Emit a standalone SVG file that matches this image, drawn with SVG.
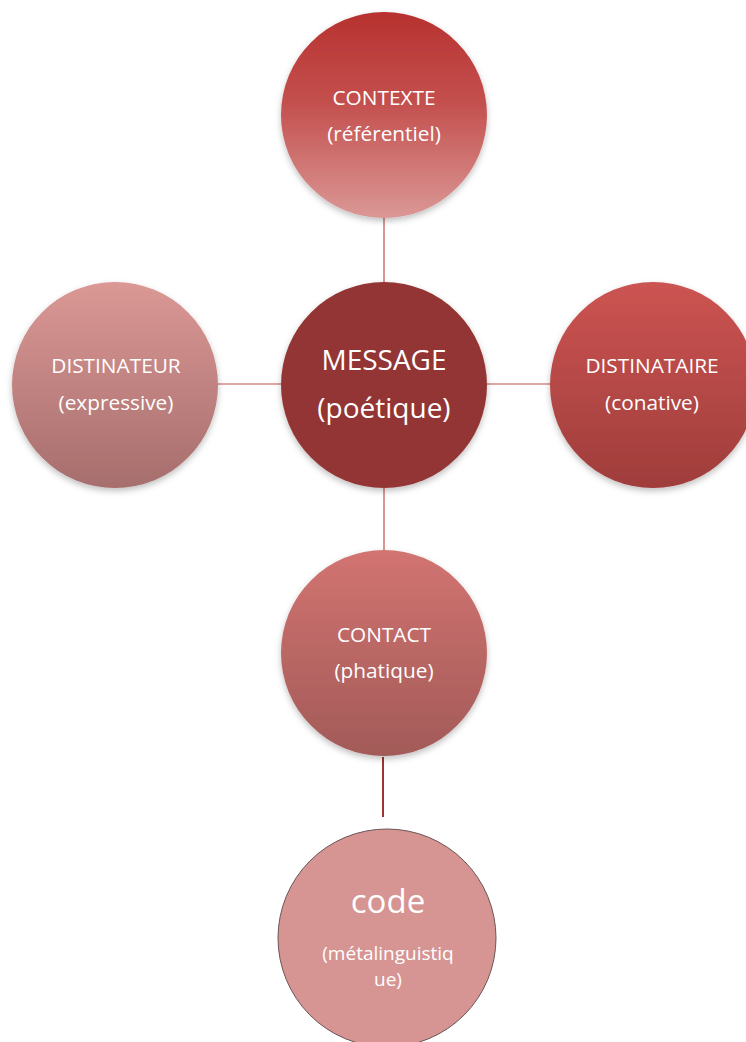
<svg xmlns="http://www.w3.org/2000/svg" width="746" height="1042" viewBox="0 0 746 1042">
<style>
text{font-family:"Open Sans","Noto Sans","Liberation Sans",sans-serif;fill:#ffffff;text-anchor:middle}
.s{font-size:20.8px}
.m{font-size:28px}
.c{font-size:33px}
.t{font-size:19px}
.conn line{stroke:#C0504D;stroke-width:1.2}
</style>
<defs>
<filter id="sh" x="-20%" y="-20%" width="140%" height="150%"><feDropShadow dx="0" dy="3" stdDeviation="3" flood-color="#000" flood-opacity="0.25"/></filter>
<linearGradient id="gTop" x1="0" y1="0" x2="0" y2="1"><stop offset="0" stop-color="#B7312F"/><stop offset="0.45" stop-color="#C4514F"/><stop offset="1" stop-color="#DA9896"/></linearGradient>
<linearGradient id="gLeft" x1="0" y1="0" x2="0" y2="1"><stop offset="0" stop-color="#DB9895"/><stop offset="1" stop-color="#A66E6D"/></linearGradient>
<linearGradient id="gRight" x1="0" y1="0" x2="0" y2="1"><stop offset="0" stop-color="#CC5452"/><stop offset="1" stop-color="#9F3D3B"/></linearGradient>
<linearGradient id="gCont" x1="0" y1="0" x2="0" y2="1"><stop offset="0" stop-color="#D27471"/><stop offset="1" stop-color="#A25A58"/></linearGradient>
</defs>
<g id="connectors" class="conn">
<line x1="384" y1="218" x2="384" y2="282"/>
<line x1="218" y1="384" x2="281" y2="384"/>
<line x1="487" y1="384" x2="550" y2="384"/>
<line x1="384" y1="488" x2="384" y2="550"/>
<line x1="383" y1="757" x2="383" y2="817" style="stroke:#9B3634;stroke-width:2"/>
</g>
<g id="contexte">
<circle cx="384" cy="115" r="103" fill="url(#gTop)" filter="url(#sh)"/>
<text class="s" x="384" y="105">CONTEXTE</text>
<text class="s" x="384" y="141">(référentiel)</text>
</g>
<g id="message">
<circle cx="384" cy="385" r="103" fill="#943634" filter="url(#sh)"/>
<text class="m" x="384" y="370">MESSAGE</text>
<text class="m" x="384" y="418">(poétique)</text>
</g>
<g id="distinateur">
<circle cx="115" cy="385" r="103" fill="url(#gLeft)" filter="url(#sh)"/>
<text class="s" x="116" y="373">DISTINATEUR</text>
<text class="s" x="116" y="410">(expressive)</text>
</g>
<g id="distinataire">
<circle cx="653" cy="385" r="103" fill="url(#gRight)" filter="url(#sh)"/>
<text class="s" x="652" y="373">DISTINATAIRE</text>
<text class="s" x="652" y="410">(conative)</text>
</g>
<g id="contact">
<circle cx="384" cy="653" r="103" fill="url(#gCont)" filter="url(#sh)"/>
<text class="s" x="384" y="642">CONTACT</text>
<text class="s" x="384" y="678">(phatique)</text>
</g>
<g id="code">
<circle cx="387" cy="938" r="109" fill="#D69592" stroke="#6A5656" stroke-width="1"/>
<text class="c" x="388" y="913">code</text>
<text class="t" x="388" y="960">(métalinguistiq</text>
<text class="t" x="388" y="986">ue)</text>
</g>
</svg>
